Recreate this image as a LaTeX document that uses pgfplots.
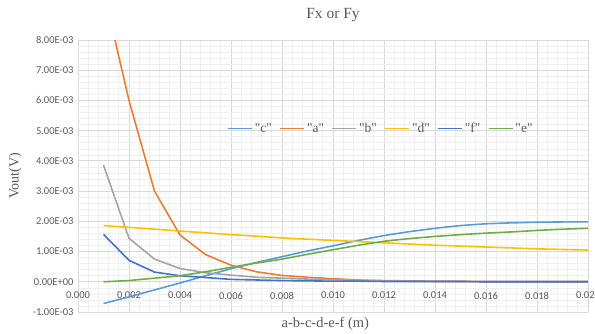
\documentclass[border=0pt]{standalone}
\usepackage{pgfplots}
\pgfplotsset{compat=1.18}
\usepackage{fontspec}
\setmainfont{Liberation Serif}[Ligatures=TeXOff]
\newfontfamily\tickfont{Carlito}
\definecolor{cC}{HTML}{5B9BD5}
\definecolor{cA}{HTML}{ED7D31}
\definecolor{cB}{HTML}{A5A5A5}
\definecolor{cD}{HTML}{FFC000}
\definecolor{cF}{HTML}{4472C4}
\definecolor{cE}{HTML}{70AD47}
\definecolor{txt}{HTML}{595959}
\definecolor{majg}{HTML}{D9D9D9}
\definecolor{ming}{HTML}{EFEFEF}
\begin{document}
\begin{tikzpicture}
\begin{axis}[
  at={(0pt,0pt)}, anchor=south west,
  scale only axis, width=510pt, height=272pt,
  xmin=0, xmax=0.020, ymin=-0.001, ymax=0.008,
  xtick={0,0.002,...,0.0201},
  xticklabels={0.000,0.002,0.004,0.006,0.008,0.010,0.012,0.014,0.016,0.018,0.020},
  ytick={-0.001,0,0.001,0.002,0.003,0.004,0.005,0.006,0.007,0.008},
  yticklabels={-1.00E-03,0.00E+00,1.00E-03,2.00E-03,3.00E-03,4.00E-03,5.00E-03,6.00E-03,7.00E-03,8.00E-03},
  scaled ticks=false,
  minor x tick num=4, minor y tick num=4,
  grid=both,
  major grid style={majg, line width=0.8pt},
  minor grid style={ming, line width=0.6pt},
  axis line style={draw=none},
  major tick length=0pt, minor tick length=0pt,
  tick style={draw=none},
  ticklabel style={font=\tickfont\fontsize{10.5}{12}\selectfont, text=txt},
  xticklabel style={yshift=23.5pt},
  yticklabel style={xshift=-1pt},
  title={\fontsize{15.5}{18}\selectfont Fx or Fy},
  title style={text=txt, at={(0.5,1)}, anchor=south, yshift=9pt},
  xlabel={\fontsize{14.5}{17}\selectfont a-b-c-d-e-f (m)},
  xlabel style={text=txt, at={(axis description cs:0.485,0)}, anchor=north, yshift=-2pt},
  ylabel={\fontsize{14}{16}\selectfont Vout(V)},
  every axis y label/.style={at={(axis description cs:-0.123,0.5)}, rotate=90, anchor=center, text=txt},
  legend style={draw=none, fill=none, at={(axis cs:0.00573,0.00507)}, anchor=west,
    font=\fontsize{13.5}{16}\selectfont, text=txt, legend columns=6,
    /tikz/every even column/.append style={column sep=5.5pt}},
  legend image code/.code={\draw[#1, line width=1.6pt] (0pt,0pt) -- (24pt,0pt);},
  every axis plot/.append style={line width=1.6pt},
  clip=true,
]
\addplot[cC] coordinates {(0.001,-0.00072)(0.002,-0.00050)(0.003,-0.00027)(0.004,-0.00004)(0.005,0.00020)(0.006,0.00043)(0.007,0.00064)(0.008,0.00083)(0.009,0.00102)(0.010,0.00119)(0.011,0.00137)(0.012,0.00153)(0.013,0.00166)(0.014,0.00177)(0.015,0.00186)(0.016,0.00192)(0.017,0.00195)(0.018,0.00197)(0.019,0.00198)(0.020,0.00198)};
\addlegendentry{"c"}
\addplot[cA] coordinates {(0.001,0.00964)(0.002,0.00600)(0.003,0.00300)(0.004,0.00155)(0.005,0.00090)(0.006,0.00055)(0.007,0.00033)(0.008,0.00021)(0.009,0.00015)(0.010,0.00010)(0.011,0.00006)(0.012,0.00003)(0.013,0.00002)(0.014,0.00001)(0.015,0.00001)(0.016,0.00000)(0.017,0.00000)(0.018,0.00000)(0.019,0.00000)(0.020,0.00000)};
\addlegendentry{"a"}
\addplot[cB] coordinates {(0.001,0.00386)(0.002,0.00144)(0.003,0.00075)(0.004,0.00044)(0.005,0.00030)(0.006,0.00022)(0.007,0.00015)(0.008,0.00012)(0.009,0.00009)(0.010,0.00007)(0.011,0.00005)(0.012,0.00004)(0.013,0.00003)(0.014,0.00002)(0.015,0.00002)(0.016,0.00001)(0.017,0.00001)(0.018,0.00001)(0.019,0.00001)(0.020,0.00001)};
\addlegendentry{"b"}
\addplot[cD] coordinates {(0.001,0.00186)(0.002,0.00180)(0.003,0.00174)(0.004,0.00168)(0.005,0.00162)(0.006,0.00156)(0.007,0.00151)(0.008,0.00145)(0.009,0.00141)(0.010,0.00137)(0.011,0.00133)(0.012,0.00129)(0.013,0.00125)(0.014,0.00121)(0.015,0.00118)(0.016,0.00115)(0.017,0.00112)(0.018,0.00109)(0.019,0.00107)(0.020,0.00105)};
\addlegendentry{"d"}
\addplot[cF] coordinates {(0.001,0.00157)(0.002,0.00071)(0.003,0.00032)(0.004,0.00020)(0.005,0.00014)(0.006,0.00008)(0.007,0.00006)(0.008,0.00004)(0.009,0.00003)(0.010,0.00002)(0.011,0.00002)(0.012,0.00001)(0.013,0.00001)(0.014,0.00001)(0.015,0.00001)(0.016,0.00000)(0.017,0.00000)(0.018,0.00000)(0.019,0.00000)(0.020,0.00000)};
\addlegendentry{"f"}
\addplot[cE] coordinates {(0.001,0.00000)(0.002,0.00004)(0.003,0.00012)(0.004,0.00020)(0.005,0.00033)(0.006,0.00048)(0.007,0.00062)(0.008,0.00075)(0.009,0.00091)(0.010,0.00106)(0.011,0.00121)(0.012,0.00134)(0.013,0.00143)(0.014,0.00150)(0.015,0.00156)(0.016,0.00161)(0.017,0.00165)(0.018,0.00170)(0.019,0.00174)(0.020,0.00177)};
\addlegendentry{"e"}
\end{axis}
\pgfresetboundingbox
\path[use as bounding box] (-78pt,-21pt) rectangle (517pt,312pt);
\end{tikzpicture}
\end{document}
